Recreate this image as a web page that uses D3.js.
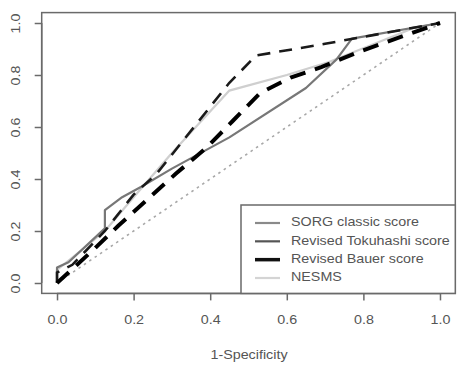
<!DOCTYPE html>
<html><head><meta charset="utf-8">
<script src="https://cdn.jsdelivr.net/npm/d3@7"></script>
<style>html,body{margin:0;padding:0;background:#fff;}svg{display:block;}</style>
</head><body><svg id="c" width="458" height="366"></svg>
<script>
const xTicks = [0, 0.2, 0.4, 0.6, 0.8, 1.0];
const yTicks = [0, 0.2, 0.4, 0.6, 0.8, 1.0];
const tickLabels = ["0.0", "0.2", "0.4", "0.6", "0.8", "1.0"];
const seriesNames = ["SORG classic score", "Revised Tokuhashi score", "Revised Bauer score", "NESMS"];
const legendColors = ["#8a8a8a", "#555555", "#111111", "#d4d4d4"];
// ROC points: [1-specificity, sensitivity]
const sorgClassic = [[0,0],[0,0.06],[0.03,0.08],[0.125,0.21],[0.125,0.28],[0.17,0.33],[0.22,0.37],[0.3,0.44],[0.45,0.56],[0.65,0.75],[0.73,0.86],[0.77,0.94],[1,1]];
const tokuhashi = [[0,0],[0,0.04],[0.04,0.07],[0.125,0.2],[0.2,0.34],[0.26,0.42],[0.45,0.77],[0.52,0.875],[0.7,0.92],[0.85,0.96],[1,1]];
const bauer = [[0,0],[0.03,0.04],[0.1,0.135],[0.16,0.22],[0.235,0.32],[0.31,0.42],[0.39,0.52],[0.46,0.625],[0.53,0.73],[0.61,0.79],[0.69,0.83],[0.79,0.89],[1,1]];
const nesms = [[0,0],[0,0.05],[0.125,0.2],[0.2,0.33],[0.3,0.5],[0.45,0.74],[0.6,0.8],[0.71,0.85],[0.93,0.98],[1,1]];
const diagonal = [[0,0],[1,1]];

const svg = d3.select("#c");
const x = d3.scaleLinear().domain([-0.04, 1.04]).range([41.7, 455.3]);
const y = d3.scaleLinear().domain([-0.04, 1.04]).range([293.4, 12.6]);
const line = d3.line().x(d => x(d[0])).y(d => y(d[1]));
const axisCol = "#6a6a6a", textCol = "#555";
const font = "Liberation Sans, Arial, sans-serif";
function stretch(sel){ sel.each(function(){ const w=this.getComputedTextLength(); d3.select(this).attr("textLength",w*1.1).attr("lengthAdjust","spacingAndGlyphs"); }); }

const plot = svg.append("g");
plot.append("path").datum(diagonal).attr("d", line).attr("fill","none")
  .attr("stroke","#a8a8a8").attr("stroke-width",1.6).attr("stroke-dasharray","2.5,4");
plot.append("path").datum(nesms).attr("d", line).attr("fill","none")
  .attr("stroke","#cfcfcf").attr("stroke-width",2.2);
plot.append("path").datum(sorgClassic).attr("d", line).attr("fill","none")
  .attr("stroke","#777").attr("stroke-width",2.2).attr("stroke-linejoin","round");
plot.append("path").datum(tokuhashi).attr("d", line).attr("fill","none")
  .attr("stroke","#1a1a1a").attr("stroke-width",2.6).attr("stroke-dasharray","13,9");
plot.append("path").datum(bauer).attr("d", line).attr("fill","none")
  .attr("stroke","#000").attr("stroke-width",4).attr("stroke-dasharray","16,10");

// box
svg.append("rect").attr("x",x(-0.04)).attr("y",y(1.04)).attr("width",x(1.04)-x(-0.04)).attr("height",y(-0.04)-y(1.04))
  .attr("fill","none").attr("stroke",axisCol).attr("stroke-width",1.5);

// x axis
const xa = svg.append("g").attr("transform",`translate(0,${y(-0.04)})`)
  .call(d3.axisBottom(x).tickValues(xTicks).tickFormat((d,i)=>tickLabels[i]).tickSize(7).tickPadding(14));
xa.select(".domain").attr("d",`M${x(0)},0H${x(1)}`).attr("stroke",axisCol).attr("stroke-width",1.5);
xa.selectAll(".tick line").attr("stroke",axisCol).attr("stroke-width",1.5);
xa.selectAll("text").attr("fill",textCol).style("font-family",font).style("font-size","13px").call(stretch);

// y axis
const ya = svg.append("g").attr("transform",`translate(${x(-0.04)},0)`)
  .call(d3.axisLeft(y).tickValues(yTicks).tickFormat((d,i)=>tickLabels[i]).tickSize(7).tickPadding(14));
ya.select(".domain").attr("d",`M0,${y(0)}V${y(1)}`).attr("stroke",axisCol).attr("stroke-width",1.5);
ya.selectAll(".tick line").attr("stroke",axisCol).attr("stroke-width",1.5);
ya.selectAll("text").attr("fill",textCol).style("font-family",font).style("font-size","13px")
  .attr("x",0).attr("dy",0).attr("text-anchor","middle")
  .attr("transform","translate(-25,0) rotate(-90)").attr("dominant-baseline","middle").call(stretch);

// x title
svg.append("text").attr("x",249).attr("y",359).attr("text-anchor","middle")
  .attr("fill",textCol).style("font-family",font).style("font-size","13px").text("1-Specificity").call(stretch);

// legend
const lg = svg.append("g");
lg.append("rect").attr("x",241).attr("y",205).attr("width",x(1.04)-241).attr("height",y(-0.04)-205)
  .attr("fill","#fff").attr("stroke",axisCol).attr("stroke-width",1.5);
const rowY = d3.scalePoint().domain(seriesNames).range([223, 278]);
seriesNames.forEach((n,i)=>{
  lg.append("line").attr("x1",255).attr("x2",280).attr("y1",rowY(n)).attr("y2",rowY(n))
    .attr("stroke",legendColors[i]).attr("stroke-width", i===2?3.5:2.2);
  lg.append("text").attr("x",291).attr("y",rowY(n)).attr("dominant-baseline","middle")
    .attr("fill",textCol).style("font-family",font).style("font-size","13px").text(n).call(stretch);
});
</script></body></html>
